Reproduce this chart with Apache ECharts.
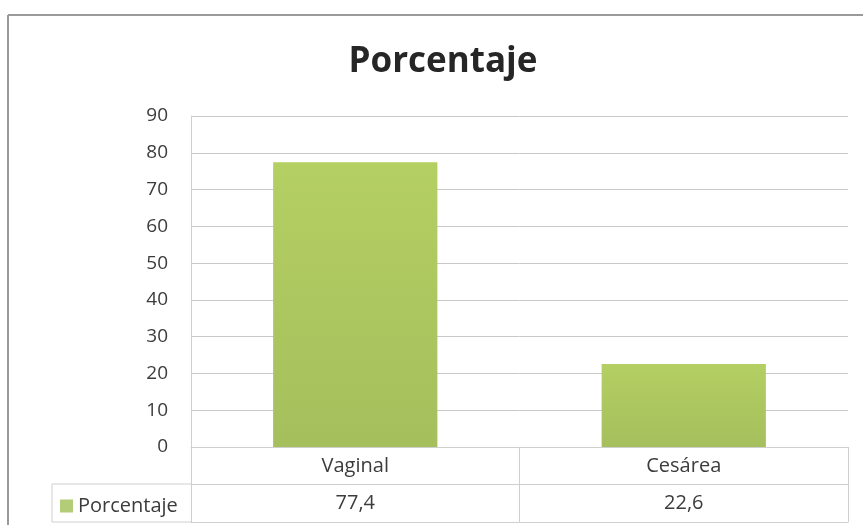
<!DOCTYPE html>
<html>
<head>
<meta charset="utf-8">
<script src="https://cdn.jsdelivr.net/npm/echarts@6/dist/echarts.min.js"></script>
<style>
  html, body { margin: 0; padding: 0; background: #fff; }
  #chart { width: 863px; height: 525px; }
</style>
</head>
<body>
<div id="chart"></div>
<script>
// data
const categories = ["Vaginal", "Cesárea"];
const porcentaje = [77.4, 22.6];
const seriesName = "Porcentaje";
const yMax = 90;
const yStep = 10;

const textColor = "#3c3c3c";
const lineColor = "#cfcfcf";
const font = "'Open Sans', 'Noto Sans', sans-serif";

const chart = echarts.init(document.getElementById("chart"));

const fmt = (v) => String(v).replace(".", ",");

const option = {
  animation: false,
  backgroundColor: "#fff",
  title: {
    text: seriesName,
    left: 438,
    top: 40,
    textAlign: "center",
    textStyle: { fontFamily: font, fontSize: 35, fontWeight: "bold", color: "#262626" },
  },
  legend: {
    data: [seriesName],
    left: 55,
    top: 491,
    itemWidth: 13,
    itemHeight: 13,
    itemGap: 4,
    icon: "rect",
    selectedMode: false,
    itemStyle: { color: "#b3cc78" },
    textStyle: { fontFamily: font, fontSize: 20, color: textColor, padding: [0, 0, 0, 0] },
  },
  grid: { left: 191, right: 15, top: 116, bottom: 78, containLabel: false },
  xAxis: [
    {
      type: "category",
      data: categories,
      position: "bottom",
      axisLine: { lineStyle: { color: lineColor } },
      axisTick: { show: true, length: 75, lineStyle: { color: lineColor } },
      axisLabel: { margin: 9, fontFamily: font, fontSize: 20, color: textColor },
    },
    {
      type: "category",
      data: porcentaje.map(fmt),
      position: "bottom",
      offset: 37,
      axisLine: { lineStyle: { color: lineColor } },
      axisTick: { show: false },
      axisLabel: { margin: 9, fontFamily: font, fontSize: 20, color: textColor },
    },
    {
      type: "category",
      data: categories,
      position: "bottom",
      offset: 75,
      axisLine: { lineStyle: { color: lineColor } },
      axisTick: { show: false },
      axisLabel: { show: false },
    },
  ],
  yAxis: {
    type: "value",
    min: 0,
    max: yMax,
    interval: yStep,
    axisLine: { show: true, lineStyle: { color: lineColor } },
    axisTick: { show: false },
    splitLine: { lineStyle: { color: "#c8c8c8" } },
    axisLabel: { margin: 23, fontFamily: font, fontSize: 19, color: textColor },
  },
  series: [
    {
      name: seriesName,
      type: "bar",
      data: porcentaje,
      barWidth: "50%",
      itemStyle: {
        color: new echarts.graphic.LinearGradient(0, 0, 0, 1, [
          { offset: 0, color: "#b4cf62" },
          { offset: 1, color: "#a5bf5d" },
        ]),
      },
    },
  ],
  graphic: [
    // outer frame
    { type: "line", shape: { x1: 8, y1: 15, x2: 863, y2: 15 }, style: { stroke: "#9a9a9a", lineWidth: 2 } },
    { type: "line", shape: { x1: 8, y1: 15, x2: 8, y2: 525 }, style: { stroke: "#9a9a9a", lineWidth: 2 } },
    // legend cell of the data table
    { type: "line", shape: { x1: 52, y1: 484, x2: 191, y2: 484 }, style: { stroke: lineColor, lineWidth: 1 } },
    { type: "line", shape: { x1: 52, y1: 522, x2: 191, y2: 522 }, style: { stroke: lineColor, lineWidth: 1 } },
    { type: "line", shape: { x1: 52, y1: 484, x2: 52, y2: 522 }, style: { stroke: lineColor, lineWidth: 1 } },
  ],
};

chart.setOption(option);
</script>
</body>
</html>
